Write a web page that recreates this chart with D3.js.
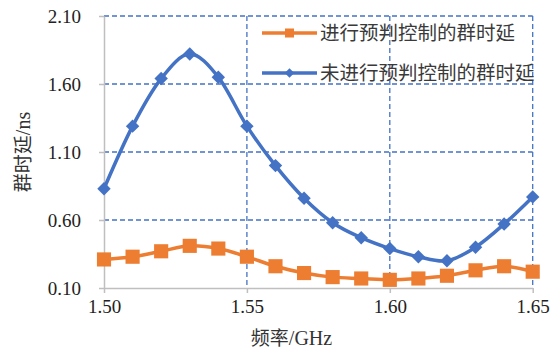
<!DOCTYPE html>
<html>
<head>
<meta charset="utf-8">
<script src="https://cdn.jsdelivr.net/npm/d3@7"></script>
<style>
html,body{margin:0;padding:0;background:#fff;}
svg{display:block;}
</style>
</head>
<body>
<svg id="chart" width="553" height="350"></svg>
<script>
const freqs = [1.50,1.51,1.52,1.53,1.54,1.55,1.56,1.57,1.58,1.59,1.60,1.61,1.62,1.63,1.64,1.65];
const withControl = [0.31,0.33,0.37,0.41,0.39,0.33,0.26,0.21,0.18,0.17,0.16,0.17,0.19,0.23,0.26,0.22];
const withoutControl = [0.83,1.29,1.64,1.82,1.65,1.29,1.00,0.76,0.58,0.47,0.39,0.33,0.30,0.40,0.57,0.77];
const xTicks = [1.50,1.55,1.60,1.65];
const yTicks = [0.10,0.60,1.10,1.60,2.10];
const seriesNames = ["进行预判控制的群时延","未进行预判控制的群时延"];
const xTitle = ["频率","/GHz"];
const yTitle = ["群时延","/ns"];

const svg = d3.select("#chart");
const mLeft = 104, mRight = 532.7, mTop = 16, mBottom = 288;
const x = d3.scaleLinear().domain([1.50,1.65]).range([mLeft,mRight]);
const y = d3.scaleLinear().domain([0.10,2.10]).range([mBottom,mTop]);
const blue = "#4472C4", orange = "#ED7D31";
const numFont = "'Liberation Serif','Times New Roman',serif";
const cjkFont = "'Noto Sans CJK SC','Noto Sans',sans-serif";

// gridlines
svg.append("g").selectAll("line").data(yTicks.filter(d=>d>0.1)).join("line")
  .attr("x1",mLeft).attr("x2",mRight).attr("y1",d=>y(d)).attr("y2",d=>y(d))
  .attr("stroke",blue).attr("stroke-width",1.3).attr("stroke-dasharray","5,3");
svg.append("g").selectAll("line").data(xTicks.filter(d=>d>1.5)).join("line")
  .attr("x1",d=>x(d)).attr("x2",d=>x(d)).attr("y1",mTop).attr("y2",mBottom)
  .attr("stroke",blue).attr("stroke-width",1.3).attr("stroke-dasharray","5,3");

// axes
const xAxis = svg.append("g").attr("transform",`translate(0,${mBottom})`)
  .call(d3.axisBottom(x).tickValues(xTicks).tickFormat(d3.format(".2f")).tickSizeInner(5).tickSizeOuter(0).tickPadding(6));
const yAxis = svg.append("g").attr("transform",`translate(${mLeft},0)`)
  .call(d3.axisLeft(y).tickValues(yTicks).tickFormat(d3.format(".2f")).tickSizeInner(5).tickSizeOuter(0).tickPadding(18));
[xAxis,yAxis].forEach(a=>{
  a.select(".domain").attr("stroke","#bfbfbf").attr("stroke-width",1.5);
  a.selectAll(".tick line").attr("stroke","#bfbfbf").attr("stroke-width",1.5);
  a.selectAll(".tick text").attr("font-family",numFont).attr("font-size",19).attr("fill","#222");
});
xAxis.selectAll(".tick text").attr("dy","0.75em");
yAxis.selectAll(".tick text").attr("dy","0.35em");

// lines
const line = d3.line().x((d,i)=>x(freqs[i])).y(d=>y(d)).curve(d3.curveCardinal.tension(0));
svg.append("path").datum(withControl).attr("d",line).attr("fill","none")
  .attr("stroke",orange).attr("stroke-width",3.5);
svg.append("path").datum(withoutControl).attr("d",line).attr("fill","none")
  .attr("stroke",blue).attr("stroke-width",3.5);

const sq = d3.symbol().type(d3.symbolSquare).size(200);
const dia = d3.symbol().type(d3.symbolSquare).size(90);
svg.append("g").selectAll("path").data(withControl).join("path")
  .attr("d",sq).attr("transform",(d,i)=>`translate(${x(freqs[i])},${y(d)})`).attr("fill",orange);
svg.append("g").selectAll("path").data(withoutControl).join("path")
  .attr("d",dia).attr("transform",(d,i)=>`translate(${x(freqs[i])},${y(d)}) rotate(45)`).attr("fill",blue);

// legend
const lg = svg.append("g");
const rows = [{name:seriesNames[0],color:orange,sym:d3.symbol().type(d3.symbolSquare).size(81),rot:0,yy:33},
              {name:seriesNames[1],color:blue,sym:d3.symbol().type(d3.symbolSquare).size(45),rot:45,yy:73}];
rows.forEach(r=>{
  lg.append("line").attr("x1",262).attr("x2",317).attr("y1",r.yy).attr("y2",r.yy)
    .attr("stroke",r.color).attr("stroke-width",3.5);
  lg.append("path").attr("d",r.sym).attr("transform",`translate(289.5,${r.yy}) rotate(${r.rot})`).attr("fill",r.color);
  lg.append("text").attr("x",320).attr("y",r.yy).attr("dy","0.36em")
    .attr("font-family",cjkFont).attr("font-size",19.5).attr("fill","#3a3a3a").text(r.name);
});

// titles
const xt = svg.append("text").attr("x",291.5).attr("y",345).attr("text-anchor","middle")
  .attr("font-size",19).attr("fill","#333");
xt.append("tspan").attr("font-family",cjkFont).text(xTitle[0]);
xt.append("tspan").attr("font-family",numFont).attr("font-size",20).text(xTitle[1]);
const yt = svg.append("text").attr("transform",`translate(30,${(mTop+mBottom)/2}) rotate(-90)`).attr("text-anchor","middle")
  .attr("font-size",19).attr("fill","#333");
yt.append("tspan").attr("font-family",cjkFont).text(yTitle[0]);
yt.append("tspan").attr("font-family",numFont).attr("font-size",20).text(yTitle[1]);
</script>
</body>
</html>
